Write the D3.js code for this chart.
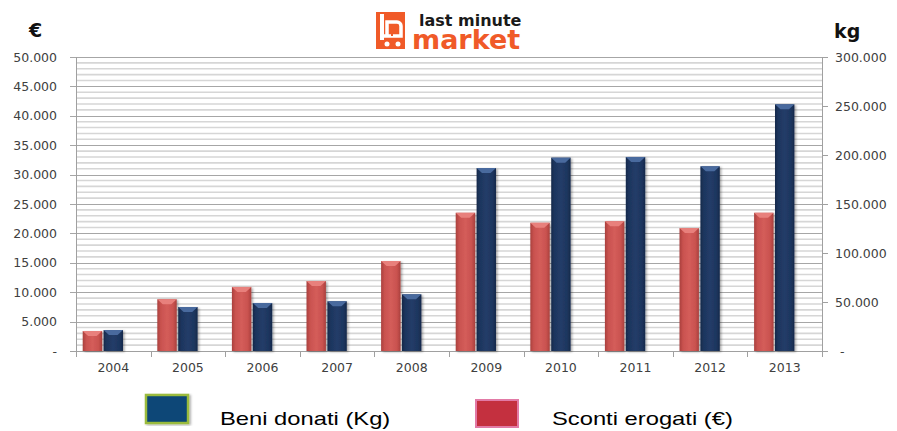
<!DOCTYPE html>
<html>
<head>
<meta charset="utf-8">
<script src="https://cdn.jsdelivr.net/npm/d3@7"></script>
<style>
  body { margin: 0; background: #fff; }
  svg { display: block; }
</style>
</head>
<body>
<div id="chart"></div>
<script>
// anni e valori
var anni = ['2004','2005','2006','2007','2008','2009','2010','2011','2012','2013'];
// Sconti erogati (€) - asse sinistro
var sconti = [3400, 8800, 10900, 11900, 15300, 23500, 21800, 22050, 20900, 23500];
// Beni donati (Kg) - asse destro
var beni = [21400, 44900, 49000, 50700, 57800, 186700, 197300, 198000, 188400, 251700];
var tickEuro = [0, 5000, 10000, 15000, 20000, 25000, 30000, 35000, 40000, 45000, 50000];
var tickKg = [0, 50000, 100000, 150000, 200000, 250000, 300000];
var legenda = ['Beni donati (Kg)', 'Sconti erogati (€)'];

var W = 897, H = 431;
var pLeft = 76, pRight = 822, pTop = 57, pBottom = 351;

var svg = d3.select('#chart').append('svg').attr('width', W).attr('height', H);
var defs = svg.append('defs');

// gradienti per le barre
function grad(id, stops) {
  var g = defs.append('linearGradient').attr('id', id)
    .attr('x1', '0%').attr('x2', '100%').attr('y1', '0%').attr('y2', '0%');
  stops.forEach(function (s) { g.append('stop').attr('offset', s[0]).attr('stop-color', s[1]); });
}
grad('gRed', [['0%', '#a9403d'], ['18%', '#c9524f'], ['50%', '#d45d5a'], ['82%', '#c9524f'], ['100%', '#a9403d']]);
grad('gBlue', [['0%', '#15294a'], ['18%', '#1e365f'], ['50%', '#223c68'], ['82%', '#1e365f'], ['100%', '#15294a']]);
var f = defs.append('filter').attr('id', 'shadow').attr('x', '-20%').attr('y', '-5%').attr('width', '150%').attr('height', '115%');
f.append('feDropShadow').attr('dx', 1.5).attr('dy', 1).attr('stdDeviation', 1.2).attr('flood-color', '#000').attr('flood-opacity', 0.35);

var x = d3.scaleBand().domain(anni).range([pLeft, pRight]);
var yE = d3.scaleLinear().domain([0, 50000]).range([pBottom, pTop]);
var yK = d3.scaleLinear().domain([0, 300000]).range([pBottom, pTop]);
var fmt = function (v) { return v === 0 ? '-' : d3.format(',')(v).replace(/,/g, '.'); };

// griglia minore (ogni 1000)
svg.append('g').selectAll('line').data(d3.range(1000, 50000, 1000).filter(function (v) { return v % 5000 !== 0; }))
  .enter().append('line')
  .attr('x1', pLeft).attr('x2', pRight).attr('y1', function (d) { return yE(d); }).attr('y2', function (d) { return yE(d); })
  .attr('stroke', '#d6d6d6').attr('stroke-width', 1.6);
// griglia maggiore
svg.append('g').selectAll('line').data(tickEuro.slice(1)).enter().append('line')
  .attr('x1', pLeft - 6).attr('x2', pRight).attr('y1', function (d) { return Math.round(yE(d)) + 0.5; }).attr('y2', function (d) { return Math.round(yE(d)) + 0.5; })
  .attr('stroke', '#a6a6a6').attr('stroke-width', 1);

// assi
var axisColor = '#a0a0a0';
svg.append('line').attr('x1', pLeft + 0.5).attr('x2', pLeft + 0.5).attr('y1', pTop).attr('y2', pBottom).attr('stroke', axisColor);
svg.append('line').attr('x1', pRight + 0.5).attr('x2', pRight + 0.5).attr('y1', pTop).attr('y2', pBottom).attr('stroke', axisColor);
svg.append('line').attr('x1', pLeft - 6).attr('x2', pRight).attr('y1', pBottom + 0.5).attr('y2', pBottom + 0.5).attr('stroke', axisColor);
// tacche categorie
svg.append('g').selectAll('line').data(anni).enter().append('line')
  .attr('x1', function (d) { return Math.round(x(d)) + 0.5; }).attr('x2', function (d) { return Math.round(x(d)) + 0.5; })
  .attr('y1', pBottom).attr('y2', pBottom + 6).attr('stroke', axisColor);
svg.append('line').attr('x1', pRight + 0.5).attr('x2', pRight + 0.5).attr('y1', pBottom).attr('y2', pBottom + 6).attr('stroke', axisColor);
// tacche asse destro
svg.append('g').selectAll('line').data(tickKg).enter().append('line')
  .attr('x1', pRight).attr('x2', pRight + 6)
  .attr('y1', function (d) { return Math.round(yK(d)) + 0.5; }).attr('y2', function (d) { return Math.round(yK(d)) + 0.5; })
  .attr('stroke', axisColor);

// etichette
var tickFont = '"DejaVu Sans", Verdana, sans-serif';
svg.append('g').selectAll('text').data(tickEuro).enter().append('text')
  .attr('x', 57).attr('y', function (d) { return yE(d) + 4.5; }).attr('text-anchor', 'end')
  .attr('font-family', tickFont).attr('font-size', 12.5).attr('fill', '#404040')
  .text(fmt);
svg.append('g').selectAll('text').data(tickKg).enter().append('text')
  .attr('x', function (d) { return d === 0 ? 840 : 835; }).attr('y', function (d) { return yK(d) + 4.5; })
  .attr('font-family', tickFont).attr('font-size', 12.5).attr('fill', '#404040')
  .text(fmt);
svg.append('g').selectAll('text').data(anni).enter().append('text')
  .attr('x', function (d) { return x(d) + x.bandwidth() / 2; }).attr('y', 372).attr('text-anchor', 'middle')
  .attr('font-family', tickFont).attr('font-size', 12.5).attr('fill', '#404040')
  .text(function (d) { return d; });

svg.append('text').attr('x', 29).attr('y', 37).attr('font-family', '"DejaVu Sans", sans-serif').attr('font-weight', 'bold')
  .attr('font-size', 19).attr('fill', '#111').text('€');
svg.append('text').attr('x', 834).attr('y', 38).attr('font-family', '"DejaVu Sans", sans-serif').attr('font-weight', 'bold')
  .attr('font-size', 19).attr('fill', '#111').text('kg');

// barre
var bw = x.bandwidth();
var barW = bw * 0.26;
function bars(data, yScale, offset, fill, cap) {
  var g = svg.append('g');
  data.forEach(function (v, i) {
    var x0 = x(anni[i]) + bw * offset;
    var y0 = yScale(v);
    var b = g.append('g').attr('filter', 'url(#shadow)');
    b.append('rect').attr('x', x0).attr('y', y0).attr('width', barW).attr('height', pBottom - y0).attr('fill', fill);
    // smusso superiore
    b.append('path')
      .attr('d', 'M' + x0 + ',' + y0 + 'h' + barW + 'l-' + (barW * 0.28) + ',5h-' + (barW * 0.44) + 'z')
      .attr('fill', cap);
  });
}
bars(sconti, yE, 0.09, 'url(#gRed)', '#e8807c');
bars(beni, yK, 0.37, 'url(#gBlue)', '#4a6a9e');

// legenda (testo allargato in orizzontale come nell'originale)
var leg = svg.append('g');
leg.append('rect').attr('x', 146).attr('y', 395).attr('width', 42).attr('height', 28)
  .attr('fill', '#074677').attr('stroke', '#9bbb3c').attr('stroke-width', 2.5).attr('filter', 'url(#shadow)');
leg.append('text').attr('transform', 'translate(220,425) scale(1.25,1)').attr('font-family', '"Liberation Sans", Arial, sans-serif')
  .attr('font-size', 19).attr('fill', '#000').text(legenda[0]);
leg.append('rect').attr('x', 476).attr('y', 400).attr('width', 42).attr('height', 27)
  .attr('fill', '#c4303f').attr('stroke', '#e27aa6').attr('stroke-width', 2);
leg.append('text').attr('transform', 'translate(552,425) scale(1.25,1)').attr('font-family', '"Liberation Sans", Arial, sans-serif')
  .attr('font-size', 19).attr('fill', '#000').text(legenda[1]);

// logo last minute market
var orange = '#f05a28';
var logo = svg.append('g');
logo.append('rect').attr('x', 376).attr('y', 12).attr('width', 29).attr('height', 37).attr('fill', orange);
logo.append('rect').attr('x', 380).attr('y', 14).attr('width', 4).attr('height', 26).attr('fill', '#fff');
logo.append('path').attr('d', 'M380,36h21v-10a4,4 0 0 0 -4,-4h-10v14').attr('fill', 'none').attr('stroke', '#fff').attr('stroke-width', 3.5);
logo.append('line').attr('x1', 392).attr('x2', 392).attr('y1', 24).attr('y2', 36).attr('stroke', orange).attr('stroke-width', 2);
logo.append('circle').attr('cx', 387).attr('cy', 44).attr('r', 2.5).attr('fill', '#fff');
logo.append('circle').attr('cx', 398).attr('cy', 44).attr('r', 2.5).attr('fill', '#fff');
logo.append('text').attr('x', 419).attr('y', 26).attr('font-family', '"DejaVu Sans", sans-serif').attr('font-weight', 'bold')
  .attr('font-size', 16).attr('fill', '#1a1a1a').text('last minute');
logo.append('text').attr('x', 412).attr('y', 49).attr('font-family', '"DejaVu Sans", sans-serif').attr('font-weight', 'bold')
  .attr('font-size', 27).attr('fill', orange).text('market');
</script>
</body>
</html>
